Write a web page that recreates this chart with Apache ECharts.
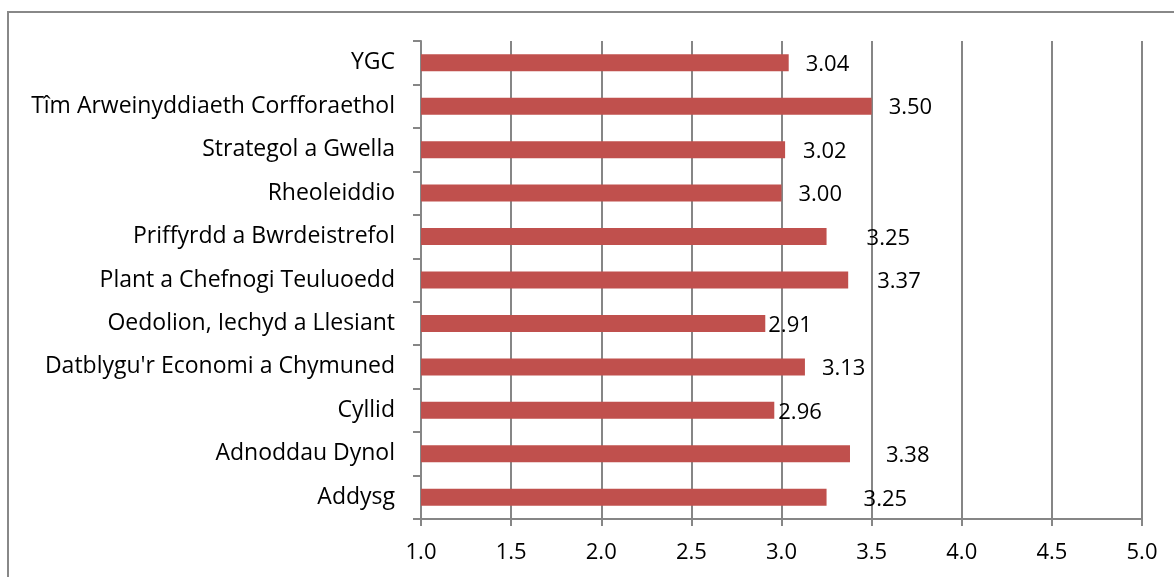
<!DOCTYPE html>
<html><head><meta charset="utf-8">
<script src="https://cdn.jsdelivr.net/npm/echarts@6/dist/echarts.min.js"></script>
<style>html,body{margin:0;padding:0;background:#fff}#c{width:1174px;height:577px}</style>
</head><body><div id="c"></div>
<script>
const categories = ["YGC","Tîm Arweinyddiaeth Corfforaethol","Strategol a Gwella","Rheoleiddio","Priffyrdd a Bwrdeistrefol","Plant a Chefnogi Teuluoedd","Oedolion, Iechyd a Llesiant","Datblygu'r Economi a Chymuned","Cyllid","Adnoddau Dynol","Addysg"];
const values = [3.04,3.50,3.02,3.00,3.25,3.37,2.91,3.13,2.96,3.38,3.25];
const xTicks = [1.0,1.5,2.0,2.5,3.0,3.5,4.0,4.5,5.0];
const labelGaps = [17,17,18,17,40,29,3,17,4,36,37];

const font = "'Open Sans', sans-serif";
const chart = echarts.init(document.getElementById('c'));
chart.setOption({
  animation:false,
  graphic:[{type:'rect',shape:{x:8,y:12,width:1300,height:700},style:{fill:'none',stroke:'#888',lineWidth:2},z:-1}],
  grid:{left:421,right:32,top:41,bottom:58},
  xAxis:{type:'value',min:xTicks[0],max:xTicks[xTicks.length-1],interval:0.5,
    axisLine:{show:true,lineStyle:{color:'#868686',width:2}},
    axisTick:{show:true,length:7,lineStyle:{color:'#868686',width:2}},
    splitLine:{show:true,lineStyle:{color:'#868686',width:2}},
    axisLabel:{color:'#000',fontSize:22,fontFamily:font,margin:23,formatter:v=>v.toFixed(1)}},
  yAxis:{type:'category',data:categories,inverse:true,
    axisLine:{show:true,lineStyle:{color:'#868686',width:2}},
    axisTick:{show:true,length:8,lineStyle:{color:'#868686',width:2}},
    axisLabel:{color:'#000',fontSize:23,fontFamily:font,margin:26,padding:[4,0,0,0]}},
  series:[{type:'bar',barWidth:17,
    data:values.map((v,i)=>({value:v,label:{distance:labelGaps[i]}})),
    itemStyle:{color:'#C0504D'},
    label:{show:true,position:'right',color:'#000',fontSize:22,fontFamily:font,offset:[0,2],formatter:p=>p.value.toFixed(2)}}]
});
</script></body></html>
